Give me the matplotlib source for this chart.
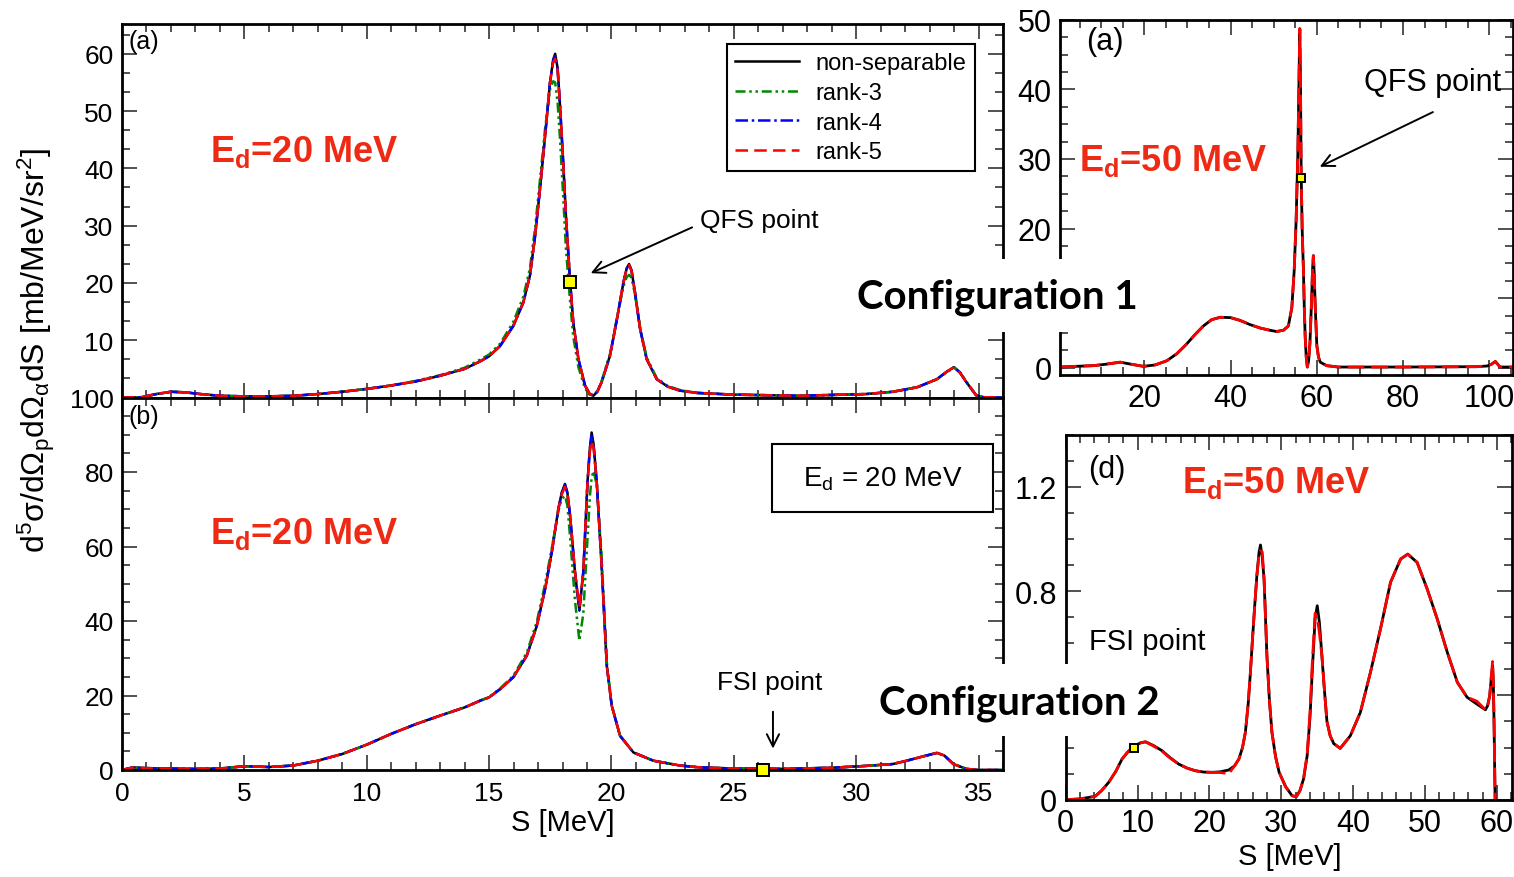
import matplotlib
matplotlib.use('Agg')
import matplotlib.pyplot as plt
from matplotlib.ticker import MultipleLocator, FuncFormatter
from matplotlib.patches import Rectangle

plt.rcParams['font.family'] = ['Liberation Sans', 'DejaVu Sans']
plt.rcParams['mathtext.fontset'] = 'custom'
plt.rcParams['mathtext.rm'] = 'Liberation Sans'
plt.rcParams['mathtext.it'] = 'Liberation Sans:italic'
plt.rcParams['mathtext.bf'] = 'Liberation Sans:bold'

# ---- panel (a), configuration 1, Ed = 20 MeV ----
a_s = [0, 0.8, 1.4, 2.0, 2.6, 3.2, 4, 5, 6, 7, 8, 9, 10, 11, 12, 13, 14,
       14.63, 15.0, 15.45, 15.99, 16.4, 16.67, 16.88, 17.08, 17.29, 17.49,
       17.62, 17.7, 17.8, 17.9, 18.03, 18.14, 18.31, 18.44, 18.65, 18.92,
       19.1, 19.26, 19.42, 19.6, 19.94, 20.2, 20.49, 20.62, 20.72, 20.82,
       20.96, 21.17, 21.44, 21.85, 22.3, 22.8, 23.5, 25, 27.7, 30.4,
       31.5, 32.5, 33.3, 33.7, 34.0, 34.25, 34.5, 34.9, 35.2, 36]
a_ns = [0, 0.05, 0.6, 1.0, 0.9, 0.6, 0.3, 0.2, 0.2, 0.3, 0.6, 1.0, 1.5, 2.1, 2.8, 3.8, 5.0,
        6.3, 7.2, 9.0, 12.5, 16.6, 21.3, 28.2, 36.4, 45.7, 55.0,
        59.0, 60.0, 57.5, 50.9, 41.0, 31.7, 20.3, 13.1, 6.7, 2.1,
        0.7, 0.3, 1.0, 2.7, 7.3, 13.1, 20.1, 22.5, 23.3, 22.2,
        18.4, 12.0, 6.7, 3.2, 1.9, 1.2, 0.8, 0.5, 0.3, 0.6,
        1.0, 1.8, 3.2, 4.5, 5.3, 4.3, 2.7, 0.4, 0.05, 0]
a_r3 = [0, 0.05, 0.6, 1.0, 0.9, 0.6, 0.3, 0.2, 0.2, 0.3, 0.6, 1.0, 1.5, 2.1, 2.9, 3.9, 5.2,
        6.6, 7.5, 9.4, 13.2, 17.6, 22.6, 29.6, 38.0, 47.0, 53.8,
        55.2, 55.0, 51.5, 45.0, 35.0, 26.0, 16.8, 10.6, 5.3, 1.6,
        0.5, 0.4, 1.1, 2.9, 7.6, 13.3, 19.4, 21.0, 21.4, 20.9,
        18.0, 12.2, 7.0, 3.4, 2.0, 1.3, 0.8, 0.5, 0.3, 0.6,
        1.0, 1.8, 3.2, 4.4, 5.2, 4.4, 2.8, 0.4, 0.05, 0]
a_r4 = [0, 0.05, 0.6, 1.0, 0.9, 0.6, 0.3, 0.2, 0.2, 0.3, 0.6, 1.0, 1.5, 2.1, 2.8, 3.8, 5.0,
        6.3, 7.2, 9.0, 12.5, 16.6, 21.3, 28.2, 36.4, 45.7, 55.0,
        58.8, 59.6, 57.4, 50.9, 41.0, 31.7, 20.3, 13.1, 6.7, 2.1,
        0.7, 0.3, 1.0, 2.7, 7.3, 13.1, 20.1, 22.5, 23.2, 22.2,
        18.4, 12.0, 6.7, 3.2, 1.9, 1.2, 0.8, 0.5, 0.3, 0.6,
        1.0, 1.8, 3.2, 4.5, 5.3, 4.3, 2.7, 0.4, 0.05, 0]
a_r5 = [0, 0.05, 0.6, 1.0, 0.9, 0.6, 0.3, 0.2, 0.2, 0.3, 0.6, 1.0, 1.5, 2.1, 2.8, 3.8, 5.0,
        6.3, 7.2, 9.0, 12.5, 16.6, 21.3, 28.2, 36.4, 45.7, 55.0,
        58.5, 59.1, 57.2, 50.9, 41.0, 31.7, 20.3, 13.1, 6.7, 2.1,
        0.7, 0.3, 1.0, 2.7, 7.3, 13.1, 20.1, 22.4, 23.1, 22.1,
        18.4, 12.0, 6.7, 3.2, 1.9, 1.2, 0.8, 0.5, 0.3, 0.6,
        1.0, 1.8, 3.2, 4.5, 5.3, 4.3, 2.7, 0.4, 0.05, 0]
qfs_a = (18.3, 20.2)

# ---- panel (b), configuration 2, Ed = 20 MeV ----
b_s = [0, 0.45, 1.0, 1.8, 3, 4, 5, 6, 7, 8,
       9, 10, 11, 12, 13, 14, 14.63, 15.0, 15.45, 15.99,
       16.54, 16.95, 17.29, 17.56, 17.83, 17.97, 18.1, 18.2, 18.31, 18.51,
       18.69, 18.85, 19.02, 19.12, 19.19, 19.27, 19.4, 19.6, 19.81, 20.01,
       20.35, 20.9, 21.71, 22.8, 23.6, 25, 27, 29, 30.4, 31.5,
       32.07, 32.7, 33.3, 33.6, 33.97, 34.5, 35, 36]
b_ns = [0, 0.7, 0.5, 0.4, 0.3, 0.4, 1.0, 0.8, 1.2, 2.5,
        4.3, 6.8, 9.7, 12.3, 14.6, 16.8, 18.6, 19.5, 21.7, 24.9,
        30.7, 38.7, 48.6, 58.4, 70.1, 74.5, 76.8, 74.5, 68.3, 53.1,
        42.8, 53.1, 77.2, 86.5, 90.6, 87.5, 77.2, 54.8, 28.0, 17.3,
        9.2, 4.7, 2.5, 1.2, 0.7, 0.4, 0.3, 0.6, 1.1, 1.6,
        2.5, 3.6, 4.6, 3.9, 1.6, 0.3, 0, 0]
b_r3 = [0, 0.7, 0.5, 0.4, 0.3, 0.4, 1.0, 0.8, 1.2, 2.5,
        4.3, 6.8, 9.7, 12.3, 14.6, 16.8, 18.6, 19.6, 21.9, 25.3,
        31.5, 39.8, 50.0, 59.5, 69.5, 72.8, 73.6, 71.0, 62.5, 45.5,
        34.7, 42.0, 62.0, 73.5, 78.5, 80.3, 76.5, 57.0, 29.0, 17.5,
        9.2, 4.7, 2.5, 1.2, 0.7, 0.4, 0.3, 0.6, 1.1, 1.6,
        2.5, 3.6, 4.5, 3.9, 1.7, 0.3, 0, 0]
b_r4 = [0, 0.7, 0.5, 0.4, 0.3, 0.4, 1.0, 0.8, 1.2, 2.5,
        4.3, 6.8, 9.7, 12.3, 14.6, 16.8, 18.6, 19.5, 21.7, 24.9,
        30.7, 38.7, 48.6, 58.4, 70.1, 74.3, 76.5, 74.3, 68.3, 53.1,
        43.0, 53.1, 77.2, 86.2, 89.8, 87.2, 77.2, 54.8, 28.0, 17.3,
        9.2, 4.7, 2.5, 1.2, 0.7, 0.4, 0.3, 0.6, 1.1, 1.6,
        2.5, 3.6, 4.6, 3.9, 1.6, 0.3, 0, 0]
b_r5 = [0, 0.7, 0.5, 0.4, 0.3, 0.4, 1.0, 0.8, 1.2, 2.5,
        4.3, 6.8, 9.7, 12.3, 14.6, 16.8, 18.6, 19.5, 21.7, 24.9,
        30.7, 38.7, 48.6, 58.4, 70.1, 74.0, 76.0, 74.0, 68.3, 53.1,
        43.8, 53.1, 77.0, 85.5, 88.4, 86.5, 77.2, 54.8, 28.0, 17.3,
        9.2, 4.7, 2.5, 1.2, 0.7, 0.4, 0.3, 0.6, 1.1, 1.6,
        2.5, 3.6, 4.6, 3.9, 1.6, 0.3, 0, 0]
fsi_b = (26.2, 0.0)

# ---- top right (a), configuration 1, Ed = 50 MeV ----
c_s = [0.44, 4, 8.2, 11, 14.4, 17, 19.8, 22.5, 25.2, 27.5,
       29.8, 31.8, 33.7, 35.6, 37.6, 40, 42.2, 44.5, 46.9, 49,
       50.7, 52.3, 53.4, 54.2, 54.75, 55.2, 55.6, 55.9, 56.05, 56.2,
       56.37, 56.6, 56.9, 57.1, 57.3, 57.55, 57.8, 58.1, 58.4, 58.8,
       59.0, 59.2, 59.4, 59.6, 60.0, 60.4, 60.8, 62.3, 65, 80,
       97, 99.5, 100.5, 101.4, 102.5, 105.5]
c_ns = [0.1, 0.2, 0.3, 0.5, 0.8, 0.5, 0.2, 0.4, 1.0, 2.0,
        3.4, 4.8, 6.0, 6.9, 7.25, 7.2, 6.8, 6.2, 5.7, 5.4,
        5.2, 5.4, 6.0, 8.6, 13.9, 21.1, 30.7, 42.7, 48.7, 42.0,
        28.0, 20.0, 14.0, 8.5, 4.5, 1.5, 0.1, 1.0, 3.5, 9.9,
        14.0, 16.1, 13.5, 9.4, 3.2, 1.5, 0.8, 0.3, 0.1, 0.1,
        0.15, 0.25, 0.5, 0.9, 0.1, 0.1]
qfs_c = (56.37, 27.2)

# ---- bottom right (d), configuration 2, Ed = 50 MeV ----
d_s = [0, 2, 4.1, 5, 6.0, 7, 7.84, 8.7, 9.6, 10.4,
       11.1, 12.2, 13.4, 14.5, 15.7, 16.9, 18.05, 19.2, 20.4, 21.5,
       22.7, 23.5, 24.1, 24.6, 25.0, 25.4, 25.7, 26.0, 26.3, 26.6,
       26.9, 27.1, 27.35, 27.6, 27.8, 28.0, 28.35, 28.7, 29.2, 29.7,
       30.6, 31.5, 32.1, 32.6, 33.1, 33.6, 34.0, 34.3, 34.7, 35.0,
       35.3, 35.65, 36.0, 36.35, 36.8, 37.3, 38.2, 39.6, 41.0, 42.4,
       43.8, 45.2, 46.6, 47.6, 48.9, 50.3, 51.7, 53.1, 54.5, 55.85,
       57.2, 58.4, 58.7, 59.0, 59.2, 59.4, 59.5, 59.6, 59.75]
d_ns = [0.0, 0.003, 0.013, 0.035, 0.067, 0.11, 0.156, 0.185, 0.207, 0.218,
        0.222, 0.208, 0.188, 0.162, 0.137, 0.121, 0.111, 0.106, 0.105, 0.107,
        0.114, 0.13, 0.156, 0.2, 0.258, 0.37, 0.488, 0.62, 0.744, 0.86,
        0.949, 0.977, 0.93, 0.846, 0.7, 0.552, 0.38, 0.258, 0.165, 0.105,
        0.05, 0.015, 0.012, 0.035, 0.08, 0.169, 0.32, 0.488, 0.693, 0.744,
        0.68, 0.552, 0.42, 0.3, 0.245, 0.215, 0.197, 0.245, 0.335, 0.488,
        0.655, 0.834, 0.923, 0.942, 0.91, 0.808, 0.693, 0.565, 0.45, 0.393,
        0.367, 0.345, 0.36, 0.399, 0.46, 0.514, 0.45, 0.3, 0.0]
d_r5 = [0.0, 0.003, 0.013, 0.035, 0.067, 0.11, 0.156, 0.185, 0.207, 0.218,
        0.222, 0.206, 0.186, 0.160, 0.137, 0.121, 0.111, 0.106, 0.105, 0.104,
        0.10, 0.13, 0.156, 0.2, 0.258, 0.37, 0.488, 0.62, 0.744, 0.86,
        0.94, 0.955, 0.95, 0.846, 0.7, 0.552, 0.38, 0.258, 0.165, 0.105,
        0.05, 0.015, 0.012, 0.035, 0.08, 0.175, 0.34, 0.52, 0.715, 0.70,
        0.64, 0.552, 0.42, 0.3, 0.245, 0.215, 0.197, 0.245, 0.335, 0.488,
        0.655, 0.834, 0.923, 0.942, 0.91, 0.808, 0.693, 0.565, 0.45, 0.393,
        0.378, 0.345, 0.36, 0.399, 0.47, 0.53, 0.45, 0.3, 0.0]
fsi_d = (9.5, 0.2)

W, H = 1514, 878
RED = '#ee2a14'
fig = plt.figure(figsize=(W / 100, H / 100), dpi=100)


def panel(l, t, r, b):
    return fig.add_axes([l / W, 1 - b / H, (r - l) / W, (b - t) / H])


def style(ax, fs):
    for s in ax.spines.values():
        s.set_linewidth(2)
    ax.tick_params(which='both', direction='in', top=True, right=True,
                   width=1.1, labelsize=fs, color='#222222')
    ax.tick_params(which='major', length=11, pad=6)
    ax.tick_params(which='minor', length=6)


def skip_labels(hidden, fmt):
    # tick labels that sit under another text in the reference are left blank
    def f(v, p):
        if any(abs(v - h) < 1e-9 for h in hidden):
            return ''
        return fmt(v)
    return FuncFormatter(f)


def four_curves(ax, s, ns, r3, r4, r5):
    ax.plot(s, ns, color='black', lw=1.8, label='non-separable')
    ax.plot(s, r3, color='#008800', lw=1.8, dashes=[4, 1.5, 1, 1.5, 1, 1.5], label='rank-3')
    ax.plot(s, r4, color='#0000ff', lw=1.8, dashes=[5, 1.5, 1, 1.5], label='rank-4')
    ax.plot(s, r5, color='#ff0000', lw=1.8, dashes=[5, 2.5], label='rank-5')


def square(ax, pt, ms):
    ax.plot([pt[0]], [pt[1]], 's', ms=ms, mfc='#ffff00', mec='black', mew=1.4,
            clip_on=False, zorder=10)


arrow = dict(arrowstyle='->', color='black', lw=1.4, mutation_scale=22)
as_int = lambda v: '%d' % round(v)

# panel (a)
axA = panel(122, 25, 1003, 398.5)
four_curves(axA, a_s, a_ns, a_r3, a_r4, a_r5)
axA.set_xlim(0, 36)
axA.set_ylim(0, 65.2)
axA.xaxis.set_major_locator(MultipleLocator(5))
axA.xaxis.set_minor_locator(MultipleLocator(1))
axA.yaxis.set_major_locator(MultipleLocator(10))
axA.yaxis.set_minor_locator(MultipleLocator(10 / 3))
axA.yaxis.set_major_formatter(skip_labels([0], as_int))
style(axA, 19)
axA.tick_params(labelbottom=False)
square(axA, qfs_a, 8)
axA.text(23.6, 31.0, 'QFS point', fontsize=19, va='center', ha='left')
axA.annotate('', xy=(19.05, 21.5), xytext=(23.4, 29.9), arrowprops=arrow)
axA.text(0.007, 0.955, '(a)', transform=axA.transAxes, fontsize=18, va='center')
axA.text(0.1, 0.66, r'$\mathbf{E_d}$=20 MeV', transform=axA.transAxes, fontsize=26,
         fontweight='bold', color=RED, va='center')
leg = axA.legend(loc='upper right', bbox_to_anchor=(0.968, 0.946), borderaxespad=0,
                 fontsize=17, frameon=True, fancybox=False, framealpha=1,
                 edgecolor='black', handlelength=2.7, handletextpad=0.7,
                 labelspacing=0.32, borderpad=0.35)
leg.get_frame().set_linewidth(1.5)

# panel (b)
axB = panel(122, 398.5, 1003, 771)
four_curves(axB, b_s, b_ns, b_r3, b_r4, b_r5)
axB.set_xlim(0, 36)
axB.set_ylim(0, 100)
axB.xaxis.set_major_locator(MultipleLocator(5))
axB.xaxis.set_minor_locator(MultipleLocator(1))
axB.yaxis.set_major_locator(MultipleLocator(20))
axB.yaxis.set_minor_locator(MultipleLocator(5))
style(axB, 19)
axB.tick_params(axis='x', pad=8)
square(axB, fsi_b, 8)
axB.text(24.3, 23.6, 'FSI point', fontsize=19, va='center', ha='left')
axB.annotate('', xy=(26.6, 5.0), xytext=(26.6, 16.4), arrowprops=arrow)
axB.text(0.007, 0.95, '(b)', transform=axB.transAxes, fontsize=18, va='center')
axB.text(0.1, 0.635, r'$\mathbf{E_d}$=20 MeV', transform=axB.transAxes, fontsize=26,
         fontweight='bold', color=RED, va='center')
axB.add_patch(Rectangle((0.738, 0.693), 0.251, 0.183, transform=axB.transAxes,
                        facecolor='white', edgecolor='black', lw=1.5, zorder=8))
axB.text(0.863, 0.784, r'E$_\mathregular{d}$ = 20 MeV', transform=axB.transAxes,
         fontsize=20, ha='center', va='center', zorder=9)

# top right panel
axC = panel(1060, 20.7, 1513, 375.7)
axC.plot(c_s, c_ns, color='black', lw=2)
axC.plot(c_s, c_ns, color='#ff0000', lw=2, dashes=[6, 2.5])
axC.set_xlim(0.44, 105.5)
axC.set_ylim(-1.0, 50)
axC.xaxis.set_major_locator(MultipleLocator(20))
axC.xaxis.set_minor_locator(MultipleLocator(5))
axC.yaxis.set_major_locator(MultipleLocator(10))
axC.yaxis.set_minor_locator(MultipleLocator(2.5))
axC.yaxis.set_major_formatter(skip_labels([10], as_int))
style(axC, 22)
square(axC, qfs_c, 6)
axC.text(71.0, 41.1, 'QFS point', fontsize=22, va='center', ha='left')
axC.annotate('', xy=(60.1, 28.7), xytext=(87.5, 36.9), arrowprops=arrow)
axC.text(0.057, 0.94, '(a)', transform=axC.transAxes, fontsize=22, va='center')
axC.text(0.042, 0.605, r'$\mathbf{E_d}$=50 MeV', transform=axC.transAxes, fontsize=26,
         fontweight='bold', color=RED, va='center')

# bottom right panel (d)
axD = panel(1065.7, 435.7, 1512, 800.7)
axD.plot(d_s, d_ns, color='black', lw=2)
axD.plot(d_s, d_r5, color='#ff0000', lw=2, dashes=[7, 2])
axD.set_xlim(0, 62.1)
axD.set_ylim(0, 1.4)
axD.xaxis.set_major_locator(MultipleLocator(10))
axD.xaxis.set_minor_locator(MultipleLocator(2))
axD.yaxis.set_major_locator(MultipleLocator(0.4))
axD.yaxis.set_minor_locator(MultipleLocator(0.1))
axD.yaxis.set_major_formatter(
    skip_labels([0.4], lambda v: '0' if abs(v) < 1e-9 else '%.1f' % v))
style(axD, 22)
axD.tick_params(axis='x', pad=6)
square(axD, fsi_d, 6)
axD.text(3.25, 0.608, 'FSI point', fontsize=21, va='center', ha='left')
axD.text(0.05, 0.905, '(d)', transform=axD.transAxes, fontsize=22, va='center')
axD.text(0.26, 0.87, r'$\mathbf{E_d}$=50 MeV', transform=axD.transAxes, fontsize=26,
         fontweight='bold', color=RED, va='center')

# labels
fig.text(36 / W, 1 - 350 / H,
         r'$\mathregular{d^5\sigma/d\Omega_p d\Omega_\alpha dS\ [mb/MeV/sr^2]}$',
         rotation=90, fontsize=23, ha='center', va='center')
fig.text(563 / W, 1 - 823 / H, 'S [MeV]', fontsize=21, ha='center', va='center')
fig.text(1290 / W, 1 - 857 / H, 'S [MeV]', fontsize=21, ha='center', va='center')

# configuration captions on white boxes
fig.add_artist(Rectangle((850 / W, 1 - 333 / H), 295 / W, 73 / H, transform=fig.transFigure,
                         facecolor='white', edgecolor='none', zorder=20))
fig.text(997 / W, 1 - 297 / H, 'Configuration 1', fontsize=29, fontweight='bold',
         family=['Lato', 'DejaVu Sans'], ha='center', va='center', zorder=21)
fig.add_artist(Rectangle((870 / W, 1 - 737 / H), 292 / W, 72 / H, transform=fig.transFigure,
                         facecolor='white', edgecolor='none', zorder=20))
fig.text(1019 / W, 1 - 703 / H, 'Configuration 2', fontsize=29, fontweight='bold',
         family=['Lato', 'DejaVu Sans'], ha='center', va='center', zorder=21)

fig.savefig('out.png', dpi=100)
